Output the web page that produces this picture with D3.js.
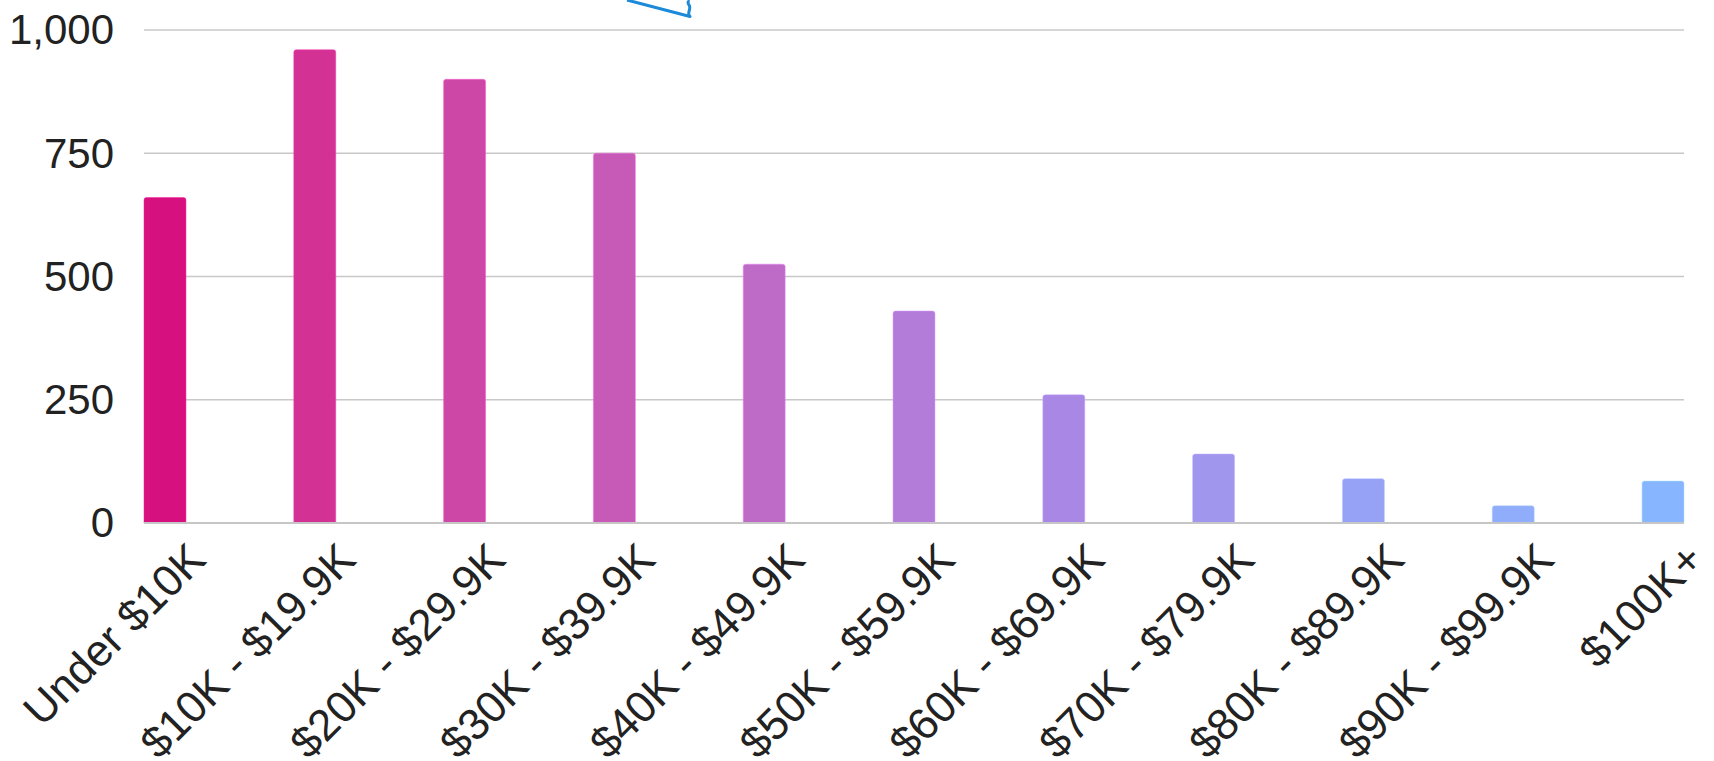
<!DOCTYPE html>
<html>
<head>
<meta charset="utf-8">
<script src="https://cdn.jsdelivr.net/npm/d3@7"></script>
<style>
  html, body { margin: 0; padding: 0; background: #fff; }
  svg { display: block; font-family: "Liberation Sans", Arial, sans-serif; }
</style>
</head>
<body>
<div id="vis"></div>
<script>
// income brackets along the x axis
var categories = ['Under $10K', '$10K - $19.9K', '$20K - $29.9K', '$30K - $39.9K',
  '$40K - $49.9K', '$50K - $59.9K', '$60K - $69.9K', '$70K - $79.9K',
  '$80K - $89.9K', '$90K - $99.9K', '$100K+'];

// count per bracket
var values = [660, 960, 900, 750, 525, 430, 260, 140, 90, 35, 85];

// one colour per bar, magenta fading to light blue
var barColors = ['#d6107f', '#d33193', '#cd48a6', '#c65ab6', '#be6bc8', '#b37cd8',
  '#a888e4', '#a096ee', '#96a2f6', '#90adfb', '#88b5ff'];

var yTicks = [0, 250, 500, 750, 1000];

var width = 1714;
var height = 761;
var margin = { top: 30, right: 30, bottom: 238, left: 144 };

var svg = d3.select('#vis')
  .append('svg')
  .attr('width', width)
  .attr('height', height);

var x = d3.scaleBand()
  .domain(categories)
  .range([margin.left, width - margin.right])
  .paddingInner(0.72)
  .paddingOuter(0);

var y = d3.scaleLinear()
  .domain([0, 1000])
  .range([height - margin.bottom, margin.top]);

// horizontal gridlines
svg.append('g')
  .selectAll('line')
  .data(yTicks.slice(1))
  .enter().append('line')
  .attr('x1', margin.left)
  .attr('x2', width - margin.right)
  .attr('y1', function (d) { return y(d); })
  .attr('y2', function (d) { return y(d); })
  .attr('stroke', '#c8c8c8')
  .attr('stroke-width', 1.5);

// y axis, no line, just labels
var yAxis = svg.append('g')
  .attr('transform', 'translate(' + margin.left + ',0)')
  .call(d3.axisLeft(y).tickValues(yTicks).tickSize(0).tickPadding(30)
    .tickFormat(d3.format(',')));
yAxis.select('.domain').remove();
yAxis.selectAll('text')
  .attr('fill', '#222')
  .attr('font-size', 42)
  .attr('dy', '0.33em');

// bars with slightly rounded tops
function barPath(d, i) {
  var x0 = x(categories[i]);
  var w = x.bandwidth();
  var y0 = y(0);
  var y1 = y(d);
  var r = Math.min(2.5, y0 - y1);
  return 'M' + x0 + ',' + y0 +
    'V' + (y1 + r) +
    'Q' + x0 + ',' + y1 + ' ' + (x0 + r) + ',' + y1 +
    'H' + (x0 + w - r) +
    'Q' + (x0 + w) + ',' + y1 + ' ' + (x0 + w) + ',' + (y1 + r) +
    'V' + y0 + 'Z';
}

svg.append('g')
  .selectAll('path')
  .data(values)
  .enter().append('path')
  .attr('d', barPath)
  .attr('fill', function (d, i) { return barColors[i]; })
  .attr('stroke', function (d, i) { return d3.rgb(barColors[i]).brighter(0.6); })
  .attr('stroke-opacity', 0.5)
  .attr('stroke-width', 1);

// baseline
svg.append('line')
  .attr('x1', margin.left)
  .attr('x2', width - margin.right)
  .attr('y1', y(0))
  .attr('y2', y(0))
  .attr('stroke', '#c6c6c6')
  .attr('stroke-width', 2);

// x axis labels, rotated
var xAxis = svg.append('g')
  .attr('transform', 'translate(0,' + y(0) + ')')
  .call(d3.axisBottom(x).tickSize(0).tickPadding(0));
xAxis.select('.domain').remove();
xAxis.selectAll('text')
  .attr('fill', '#222')
  .attr('font-size', 44)
  .attr('text-anchor', 'end')
  .attr('dy', '0.35em')
  .attr('transform', 'translate(32,28) rotate(-45)');

// piece of an annotation arrow cut off by the top edge
svg.append('path')
  .attr('d', 'M627,0 L690,16.5 C686,13 692,9 689,5 C687,3 689,1 688,0')
  .attr('fill', 'none')
  .attr('stroke', '#1a8ad9')
  .attr('stroke-width', 3)
  .attr('stroke-linejoin', 'round');
</script>
</body>
</html>
